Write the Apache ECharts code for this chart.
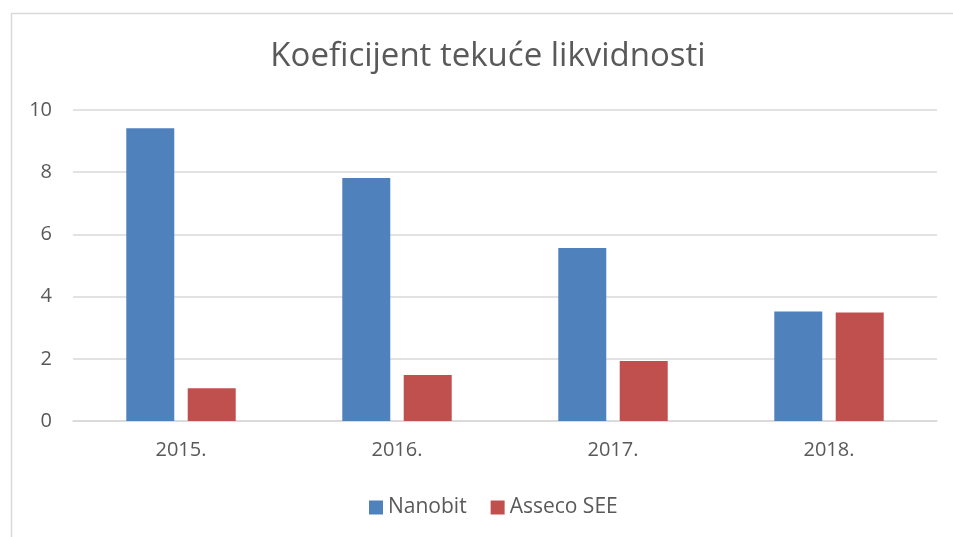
<!DOCTYPE html>
<html>
<head>
<meta charset="utf-8">
<script src="https://cdn.jsdelivr.net/npm/echarts@6/dist/echarts.min.js"></script>
<style>
  html, body { margin: 0; padding: 0; background: #fff; }
  #chart { width: 953px; height: 537px; }
</style>
</head>
<body>
<div id="chart"></div>
<script>
// podaci
var years = ['2015.', '2016.', '2017.', '2018.'];
var nanobit = [9.41, 7.81, 5.56, 3.52];
var asseco = [1.05, 1.48, 1.93, 3.49];
var seriesNames = ['Nanobit', 'Asseco SEE'];

var chart = echarts.init(document.getElementById('chart'));
var font = 'Open Sans';

var option = {
    animation: false,
    backgroundColor: '#fff',
    title: {
        text: 'Koeficijent tekuće likvidnosti',
        left: 483,
        top: 35,
        textAlign: 'center',
        textStyle: { fontFamily: font, fontSize: 33, fontWeight: 'normal', color: '#595959' }
    },
    graphic: [{
        type: 'rect',
        left: 9, top: 11,
        shape: { width: 1000, height: 600 },
        style: { fill: 'none', stroke: '#d9d9d9', lineWidth: 1.5 },
        silent: true
    }],
    legend: {
        data: seriesNames,
        top: 492,
        left: 364,
        itemWidth: 14,
        itemHeight: 14,
        itemGap: 24,
        icon: 'rect',
        textStyle: { fontFamily: font, fontSize: 21, color: '#595959' }
    },
    grid: { left: 73, right: 16, top: 110, bottom: 116 },
    xAxis: {
        type: 'category',
        data: years,
        axisTick: { show: false },
        axisLine: { lineStyle: { color: '#d9d9d9', width: 1.5 } },
        axisLabel: { fontFamily: font, fontSize: 20, color: '#595959', margin: 19 }
    },
    yAxis: {
        type: 'value',
        min: 0, max: 10, interval: 2,
        axisLine: { show: false },
        axisTick: { show: false },
        splitLine: { lineStyle: { color: '#d9d9d9', width: 1.5 } },
        axisLabel: { fontFamily: font, fontSize: 20, color: '#595959', margin: 21 }
    },
    series: [{
        name: seriesNames[0],
        type: 'bar',
        data: nanobit,
        barWidth: 48,
        barGap: '28%',
        itemStyle: { color: '#4F81BD' }
    }, {
        name: seriesNames[1],
        type: 'bar',
        data: asseco,
        barWidth: 48,
        barGap: '28%',
        itemStyle: { color: '#C0504D' }
    }]
};
chart.setOption(option);
</script>
</body>
</html>
